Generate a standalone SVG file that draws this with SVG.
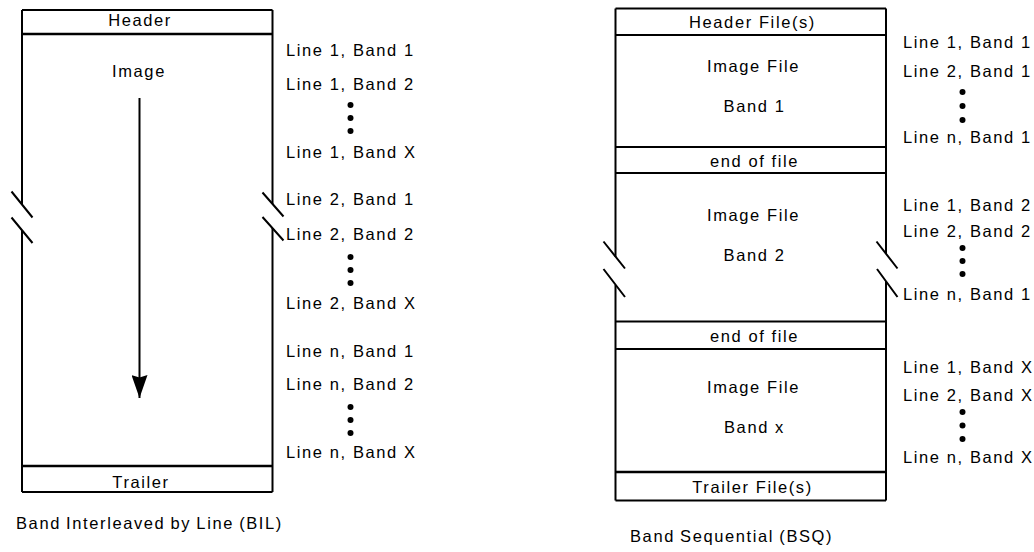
<svg xmlns="http://www.w3.org/2000/svg" width="1034" height="552" viewBox="0 0 1034 552">
  <defs>
    <style>
      .t { font-family: "Liberation Sans", Arial, sans-serif; font-size: 16.5px; letter-spacing: 1.6px; fill: #000; }
      .c { text-anchor: middle; }
      .cap { word-spacing: -1px; }
      .edge { fill: none; stroke: #000; stroke-width: 2; }
      .div { fill: none; stroke: #000; stroke-width: 2.5; }
      .brk { fill: none; stroke: #000; stroke-width: 2; }
      .dot { fill: #000; }
    </style>
    <marker id="head" viewBox="0 0 24 16" refX="23" refY="8" markerWidth="24" markerHeight="16" markerUnits="userSpaceOnUse" orient="auto">
      <path d="M0,0 L2.5,8 L0,16 L23,8 Z" fill="#000"/>
    </marker>
  </defs>
  <rect width="1034" height="552" fill="#fff"/>

  <!-- Band Interleaved by Line layout -->
  <g id="bil">
    <g id="bil-frame">
      <path class="edge" d="M22,10 H272.5 M22,492 H272.5 M22,10 V204.5 M22,230 V492 M272.5,10 V204 M272.5,228 V492"/>
      <path class="brk" d="M11.5,191.5 L32.5,217.5 M11.5,217.5 L32.5,243 M262.5,192.5 L283.5,216.5 M262.5,217 L283.5,240.5"/>
    </g>
    <g id="bil-header">
      <line class="div" x1="22" y1="34" x2="272.5" y2="34"/>
      <text class="t c" x="140" y="26">Header</text>
    </g>
    <g id="bil-image">
      <text class="t c" x="139" y="77">Image</text>
    </g>
    <g id="bil-trailer">
      <line class="div" x1="22" y1="466" x2="272.5" y2="466"/>
      <text class="t c" x="141" y="488">Trailer</text>
    </g>
    <g id="bil-order">
      <text class="t" x="286" y="56">Line 1, Band 1</text>
      <text class="t" x="286" y="90">Line 1, Band 2</text>
      <circle class="dot" cx="350.5" cy="105" r="3"/>
      <circle class="dot" cx="350.5" cy="118" r="3"/>
      <circle class="dot" cx="350.5" cy="131" r="3"/>
      <text class="t" x="286" y="158">Line 1, Band X</text>
      <text class="t" x="286" y="205">Line 2, Band 1</text>
      <text class="t" x="286" y="240">Line 2, Band 2</text>
      <circle class="dot" cx="350.5" cy="257" r="3"/>
      <circle class="dot" cx="350.5" cy="270" r="3"/>
      <circle class="dot" cx="350.5" cy="283" r="3"/>
      <text class="t" x="286" y="309">Line 2, Band X</text>
      <text class="t" x="286" y="357">Line n, Band 1</text>
      <text class="t" x="286" y="390">Line n, Band 2</text>
      <circle class="dot" cx="350.5" cy="407" r="3"/>
      <circle class="dot" cx="350.5" cy="420" r="3"/>
      <circle class="dot" cx="350.5" cy="433" r="3"/>
      <text class="t" x="286" y="458">Line n, Band X</text>
    </g>
    <g id="bil-caption">
      <text class="t cap" x="16" y="529">Band Interleaved by Line (BIL)</text>
    </g>
  </g>

  <!-- Band Sequential layout -->
  <g id="bsq">
    <g id="bsq-frame">
      <path class="edge" d="M615.5,8.5 H886 M615.5,500.5 H886 M615.5,8.5 V257 M615.5,285 V500.5 M886,8.5 V254 M886,281 V500.5"/>
      <path class="brk" d="M603.5,241.5 L625,268.5 M603.5,269 L625,297 M876.5,241.5 L897.5,268.5 M877,269 L897.5,297"/>
    </g>
    <g id="bsq-header">
      <line class="edge" x1="615.5" y1="35" x2="886" y2="35"/>
      <text class="t c" x="752.5" y="28">Header File(s)</text>
    </g>
    <g id="bsq-band1">
      <text class="t c" x="753.5" y="72">Image File</text>
      <text class="t c" x="754.5" y="112">Band 1</text>
    </g>
    <g id="bsq-eof1">
      <line class="edge" x1="615.5" y1="147" x2="886" y2="147"/>
      <line class="edge" x1="615.5" y1="173" x2="886" y2="173"/>
      <text class="t c" x="754.5" y="167">end of file</text>
    </g>
    <g id="bsq-band2">
      <text class="t c" x="753.5" y="221">Image File</text>
      <text class="t c" x="754.5" y="261">Band 2</text>
    </g>
    <g id="bsq-eof2">
      <line class="edge" x1="615.5" y1="321.5" x2="886" y2="321.5"/>
      <line class="edge" x1="615.5" y1="349" x2="886" y2="349"/>
      <text class="t c" x="754.5" y="342">end of file</text>
    </g>
    <g id="bsq-bandx">
      <text class="t c" x="753.5" y="393">Image File</text>
      <text class="t c" x="754.5" y="433">Band x</text>
    </g>
    <g id="bsq-trailer">
      <line class="div" x1="615.5" y1="472" x2="886" y2="472"/>
      <text class="t c" x="752.5" y="493">Trailer File(s)</text>
    </g>
    <g id="bsq-order">
      <text class="t" x="903" y="48">Line 1, Band 1</text>
      <text class="t" x="903" y="77">Line 2, Band 1</text>
      <circle class="dot" cx="962.5" cy="92" r="3"/>
      <circle class="dot" cx="962.5" cy="106" r="3"/>
      <circle class="dot" cx="962.5" cy="120" r="3"/>
      <text class="t" x="903" y="143">Line n, Band 1</text>
      <text class="t" x="903" y="211">Line 1, Band 2</text>
      <text class="t" x="903" y="237">Line 2, Band 2</text>
      <circle class="dot" cx="962.5" cy="248" r="3"/>
      <circle class="dot" cx="962.5" cy="261" r="3"/>
      <circle class="dot" cx="962.5" cy="274" r="3"/>
      <text class="t" x="903" y="300">Line n, Band 1</text>
      <text class="t" x="903" y="373">Line 1, Band X</text>
      <text class="t" x="903" y="401">Line 2, Band X</text>
      <circle class="dot" cx="962.5" cy="412" r="3"/>
      <circle class="dot" cx="962.5" cy="425.5" r="3"/>
      <circle class="dot" cx="962.5" cy="439" r="3"/>
      <text class="t" x="903" y="463">Line n, Band X</text>
    </g>
    <g id="bsq-caption">
      <text class="t cap" x="630" y="542">Band Sequential (BSQ)</text>
    </g>
  </g>

  <!-- connectors -->
  <g id="connectors">
    <line x1="139.5" y1="98" x2="139.5" y2="398" stroke="#000" stroke-width="2" marker-end="url(#head)"/>
  </g>
</svg>
